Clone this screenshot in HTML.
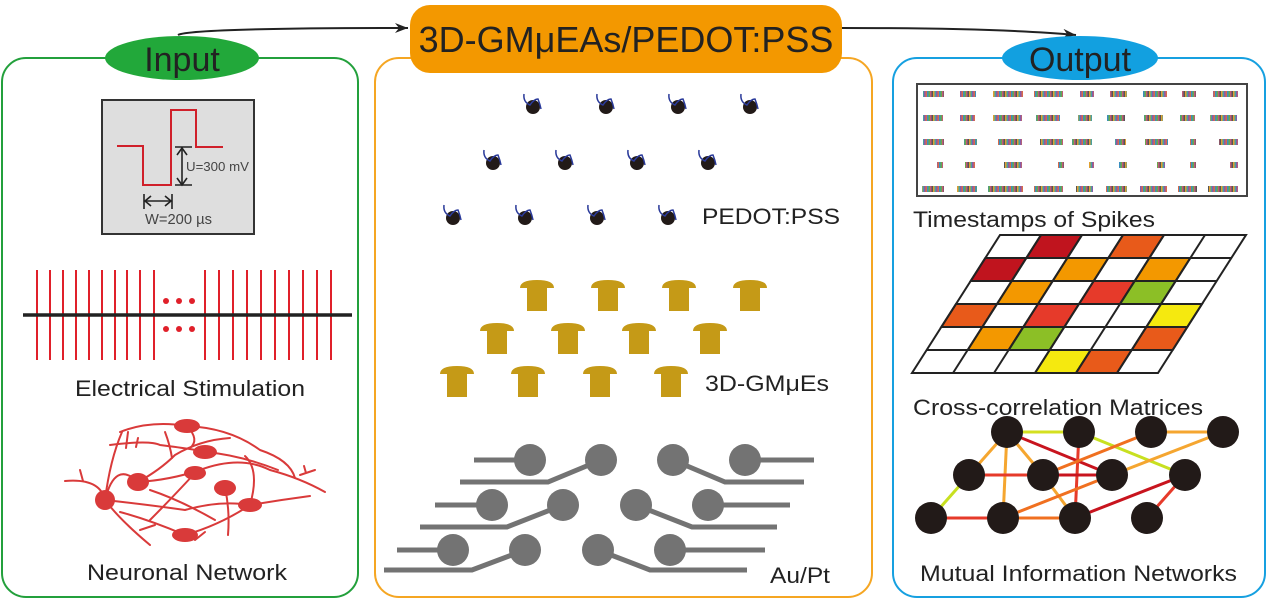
<!DOCTYPE html>
<html><head><meta charset="utf-8"><style>
html,body{margin:0;padding:0;background:#fff;}
svg{display:block;font-family:"Liberation Sans",Arial,sans-serif;}
</style></head><body>
<svg width="1271" height="601" viewBox="0 0 1271 601" xmlns="http://www.w3.org/2000/svg">
<defs>
<pattern id="sp" patternUnits="userSpaceOnUse" width="12" height="8">
<rect x="0" width="1.5" height="8" fill="#8a5aa8"/><rect x="1.5" width="1.5" height="8" fill="#d96a4a"/>
<rect x="3" width="1.5" height="8" fill="#3a8fbf"/><rect x="4.5" width="1.5" height="8" fill="#6aa84a"/>
<rect x="6" width="1.5" height="8" fill="#c05a7a"/><rect x="7.5" width="1.5" height="8" fill="#555"/>
<rect x="9" width="1.5" height="8" fill="#e0a030"/><rect x="10.5" width="1.5" height="8" fill="#4aa0a0"/>
</pattern>
<marker id="ah" markerWidth="14" markerHeight="10" refX="13" refY="5" orient="auto" markerUnits="userSpaceOnUse">
<path d="M0,0 L13,5 L0,10 L4,5 Z" fill="#222"/></marker>
</defs>

<rect x="2" y="58" width="356" height="539" rx="24" fill="none" stroke="#23a03c" stroke-width="2"/>
<rect x="375" y="58" width="497" height="539" rx="24" fill="none" stroke="#f5a623" stroke-width="2"/>
<rect x="893" y="58" width="372" height="539" rx="24" fill="none" stroke="#16a0e0" stroke-width="2"/>

<path d="M178,35 Q190,28 408,28" fill="none" stroke="#222" stroke-width="2" marker-end="url(#ah)"/>
<path d="M842,28 Q1000,28 1076,35" fill="none" stroke="#222" stroke-width="2" marker-end="url(#ah)"/>

<ellipse cx="182" cy="58" rx="77" ry="22" fill="#22a83a"/>
<text x="182" y="71" font-size="34" text-anchor="middle" fill="#222">Input</text>
<rect x="410" y="5" width="432" height="68" rx="20" fill="#f39800"/>
<text x="626" y="52" font-size="36" text-anchor="middle" fill="#222">3D-GMμEAs/PEDOT:PSS</text>
<ellipse cx="1080" cy="58" rx="78" ry="22" fill="#12a0e0"/>
<text x="1080" y="71" font-size="34" text-anchor="middle" fill="#222">Output</text>

<rect x="102" y="100" width="152" height="134" fill="#dedede" stroke="#333" stroke-width="2"/>
<polyline points="117,146 143,146 143,185 171,185 171,110 196,110 196,147 223,147" fill="none" stroke="#d0202a" stroke-width="2"/>
<g stroke="#222" stroke-width="1.6" fill="none">
<line x1="182" y1="147" x2="182" y2="185"/><line x1="175" y1="147" x2="192" y2="147"/><line x1="175" y1="185" x2="192" y2="185"/>
<polyline points="177,155 182,148 187,155"/><polyline points="177,178 182,185 187,178"/>
<line x1="144" y1="201" x2="172" y2="201"/><line x1="144" y1="194" x2="144" y2="209"/><line x1="172" y1="194" x2="172" y2="209"/>
<polyline points="151,196 145,201 151,206"/><polyline points="165,196 171,201 165,206"/>
</g>
<text x="186" y="171" font-size="13" fill="#444" textLength="63" lengthAdjust="spacingAndGlyphs">U=300 mV</text>
<text x="145" y="224" font-size="15" fill="#444" textLength="67" lengthAdjust="spacingAndGlyphs">W=200 µs</text>

<g stroke="#e0202a" stroke-width="2">
<line x1="37" y1="270" x2="37" y2="360"/><line x1="50" y1="270" x2="50" y2="360"/><line x1="63" y1="270" x2="63" y2="360"/><line x1="76" y1="270" x2="76" y2="360"/><line x1="89" y1="270" x2="89" y2="360"/><line x1="102" y1="270" x2="102" y2="360"/><line x1="115" y1="270" x2="115" y2="360"/><line x1="127" y1="270" x2="127" y2="360"/><line x1="140" y1="270" x2="140" y2="360"/><line x1="154" y1="270" x2="154" y2="360"/>
<line x1="205" y1="270" x2="205" y2="360"/><line x1="219" y1="270" x2="219" y2="360"/><line x1="233" y1="270" x2="233" y2="360"/><line x1="247" y1="270" x2="247" y2="360"/><line x1="261" y1="270" x2="261" y2="360"/><line x1="275" y1="270" x2="275" y2="360"/><line x1="289" y1="270" x2="289" y2="360"/><line x1="303" y1="270" x2="303" y2="360"/><line x1="317" y1="270" x2="317" y2="360"/><line x1="331" y1="270" x2="331" y2="360"/>
</g>
<line x1="23" y1="315" x2="352" y2="315" stroke="#222" stroke-width="3.5"/>
<g fill="#e0202a"><circle cx="166" cy="301" r="3"/><circle cx="179" cy="301" r="3"/><circle cx="192" cy="301" r="3"/><circle cx="166" cy="329" r="3"/><circle cx="179" cy="329" r="3"/><circle cx="192" cy="329" r="3"/></g>
<text x="75" y="396" font-size="22" fill="#222" textLength="230" lengthAdjust="spacingAndGlyphs">Electrical Stimulation</text>

<g stroke="#d93a3a" stroke-width="2" fill="none" stroke-linecap="round">
<path d="M65,481 Q100,478 105,500 Q120,520 150,545"/>
<path d="M105,500 Q115,460 138,482 Q170,480 200,470 Q240,455 270,470 Q300,478 325,492"/>
<path d="M120,432 Q150,420 187,426 Q230,428 260,450 Q290,460 295,478"/>
<path d="M110,445 Q150,440 160,445 Q200,450 205,452 Q240,455 278,470"/>
<path d="M138,482 Q160,470 175,455 Q200,440 230,438"/>
<path d="M122,432 Q110,460 105,500"/>
<path d="M105,500 Q150,505 185,510 Q220,500 250,505 Q280,500 310,496"/>
<path d="M120,512 Q150,520 185,535 Q220,525 250,505"/>
<path d="M195,473 Q170,500 150,520"/>
<path d="M225,488 Q230,510 228,535"/>
<path d="M150,490 Q180,500 215,520"/>
<path d="M187,426 Q200,440 190,448"/>
<path d="M165,432 Q170,445 172,458"/>
<path d="M245,456 Q260,470 250,505"/>
<path d="M300,475 L315,470 M306,473 L304,466"/>
<path d="M140,530 L155,525 M195,540 L205,532"/>
<path d="M80,470 L83,481 M128,432 L126,448 M136,447 L138,438"/>
</g>
<g fill="#d93a3a">
<ellipse cx="187" cy="426" rx="13" ry="7"/><ellipse cx="205" cy="452" rx="12" ry="7"/><ellipse cx="195" cy="473" rx="11" ry="7"/>
<ellipse cx="138" cy="482" rx="11" ry="9"/><ellipse cx="105" cy="500" rx="10" ry="10"/><ellipse cx="225" cy="488" rx="11" ry="8"/>
<ellipse cx="250" cy="505" rx="12" ry="7"/><ellipse cx="185" cy="535" rx="13" ry="7"/>
</g>
<text x="87" y="580" font-size="22" fill="#222" textLength="200" lengthAdjust="spacingAndGlyphs">Neuronal Network</text>

<g fill="#221a18">
<circle cx="533" cy="107" r="7"/><circle cx="606" cy="107" r="7"/><circle cx="678" cy="107" r="7"/><circle cx="750" cy="107" r="7"/>
<circle cx="493" cy="163" r="7"/><circle cx="565" cy="163" r="7"/><circle cx="637" cy="163" r="7"/><circle cx="708" cy="163" r="7"/>
<circle cx="453" cy="218" r="7"/><circle cx="525" cy="218" r="7"/><circle cx="597" cy="218" r="7"/><circle cx="668" cy="218" r="7"/>
</g>
<g fill="none" stroke="#2a3a9a" stroke-width="1.5">
<path d="M524,94 Q523,102 530,105 Q534,99 538,99 Q540,104 541,109"/>
<path d="M597,94 Q596,102 603,105 Q607,99 611,99 Q613,104 614,109"/>
<path d="M669,94 Q668,102 675,105 Q679,99 683,99 Q685,104 686,109"/>
<path d="M741,94 Q740,102 747,105 Q751,99 755,99 Q757,104 758,109"/>
<path d="M484,150 Q483,158 490,161 Q494,155 498,155 Q500,160 501,165"/>
<path d="M556,150 Q555,158 562,161 Q566,155 570,155 Q572,160 573,165"/>
<path d="M628,150 Q627,158 634,161 Q638,155 642,155 Q644,160 645,165"/>
<path d="M699,150 Q698,158 705,161 Q709,155 713,155 Q715,160 716,165"/>
<path d="M444,205 Q443,213 450,216 Q454,210 458,210 Q460,215 461,220"/>
<path d="M516,205 Q515,213 522,216 Q526,210 530,210 Q532,215 533,220"/>
<path d="M588,205 Q587,213 594,216 Q598,210 602,210 Q604,215 605,220"/>
<path d="M659,205 Q658,213 665,216 Q669,210 673,210 Q675,215 676,220"/>
</g>
<text x="702" y="224" font-size="22" fill="#222" textLength="138" lengthAdjust="spacingAndGlyphs">PEDOT:PSS</text>

<defs><path id="mu" d="M-17,8 Q-17,0 0,0 Q17,0 17,8 L10,8 L10,31 L-10,31 L-10,8 Z" fill="#c59a17"/></defs>
<use href="#mu" x="537" y="280"/><use href="#mu" x="608" y="280"/><use href="#mu" x="679" y="280"/><use href="#mu" x="750" y="280"/>
<use href="#mu" x="497" y="323"/><use href="#mu" x="568" y="323"/><use href="#mu" x="639" y="323"/><use href="#mu" x="710" y="323"/>
<use href="#mu" x="457" y="366"/><use href="#mu" x="528" y="366"/><use href="#mu" x="600" y="366"/><use href="#mu" x="671" y="366"/>
<text x="705" y="391" font-size="22" fill="#222" textLength="124" lengthAdjust="spacingAndGlyphs">3D-GMμEs</text>

<g stroke="#737373" stroke-width="5" fill="none">
<polyline points="474,460 530,460"/><polyline points="460,482 548,482 601,460"/>
<polyline points="673,460 725,482 804,482"/><polyline points="745,460 814,460"/>
<polyline points="435,505 492,505"/><polyline points="420,527 507,527 563,505"/>
<polyline points="636,505 692,527 777,527"/><polyline points="708,505 790,505"/>
<polyline points="397,550 453,550"/><polyline points="384,570 472,570 525,550"/>
<polyline points="598,550 650,570 747,570"/><polyline points="670,550 765,550"/>
</g>
<g fill="#737373">
<circle cx="530" cy="460" r="16"/><circle cx="601" cy="460" r="16"/><circle cx="673" cy="460" r="16"/><circle cx="745" cy="460" r="16"/>
<circle cx="492" cy="505" r="16"/><circle cx="563" cy="505" r="16"/><circle cx="636" cy="505" r="16"/><circle cx="708" cy="505" r="16"/>
<circle cx="453" cy="550" r="16"/><circle cx="525" cy="550" r="16"/><circle cx="598" cy="550" r="16"/><circle cx="670" cy="550" r="16"/>
</g>
<text x="770" y="583" font-size="22" fill="#222" textLength="60" lengthAdjust="spacingAndGlyphs">Au/Pt</text>

<rect x="917" y="84" width="330" height="112" fill="#fff" stroke="#444" stroke-width="2"/>
<g fill="url(#sp)">
<rect x="923" y="91" width="21" height="6"/><rect x="960" y="91" width="16" height="6"/><rect x="993" y="91" width="30" height="6"/><rect x="1034" y="91" width="29" height="6"/><rect x="1080" y="91" width="14" height="6"/><rect x="1110" y="91" width="17" height="6"/><rect x="1143" y="91" width="24" height="6"/><rect x="1182" y="91" width="14" height="6"/><rect x="1213" y="91" width="25" height="6"/>
<rect x="923" y="115" width="20" height="6"/><rect x="960" y="115" width="15" height="6"/><rect x="993" y="115" width="29" height="6"/><rect x="1036" y="115" width="24" height="6"/><rect x="1078" y="115" width="14" height="6"/><rect x="1107" y="115" width="18" height="6"/><rect x="1144" y="115" width="19" height="6"/><rect x="1180" y="115" width="15" height="6"/><rect x="1210" y="115" width="27" height="6"/>
<rect x="923" y="139" width="21" height="6"/><rect x="964" y="139" width="13" height="6"/><rect x="998" y="139" width="24" height="6"/><rect x="1040" y="139" width="23" height="6"/><rect x="1072" y="139" width="20" height="6"/><rect x="1115" y="139" width="11" height="6"/><rect x="1145" y="139" width="23" height="6"/><rect x="1190" y="139" width="6" height="6"/><rect x="1219" y="139" width="19" height="6"/>
<rect x="937" y="162" width="6" height="6"/><rect x="965" y="162" width="10" height="6"/><rect x="1004" y="162" width="18" height="6"/><rect x="1058" y="162" width="6" height="6"/><rect x="1089" y="162" width="5" height="6"/><rect x="1119" y="162" width="8" height="6"/><rect x="1157" y="162" width="8" height="6"/><rect x="1190" y="162" width="6" height="6"/><rect x="1230" y="162" width="8" height="6"/>
<rect x="922" y="186" width="22" height="6"/><rect x="957" y="186" width="20" height="6"/><rect x="988" y="186" width="35" height="6"/><rect x="1034" y="186" width="29" height="6"/><rect x="1076" y="186" width="17" height="6"/><rect x="1106" y="186" width="21" height="6"/><rect x="1140" y="186" width="27" height="6"/><rect x="1178" y="186" width="19" height="6"/><rect x="1208" y="186" width="30" height="6"/>
</g>
<text x="913" y="227" font-size="22" fill="#222" textLength="242" lengthAdjust="spacingAndGlyphs">Timestamps of Spikes</text>

<g stroke="#222" stroke-width="2">
<polygon points="1041,235 1082,235 1067.3,258 1026.3,258" fill="#c0141e"/>
<polygon points="1123,235 1164,235 1149.3,258 1108.3,258" fill="#e85a1a"/>
<polygon points="985.3,258 1026.3,258 1011.7,281 970.7,281" fill="#c0141e"/>
<polygon points="1067.3,258 1108.3,258 1093.7,281 1052.7,281" fill="#f39800"/>
<polygon points="1149.3,258 1190.3,258 1175.7,281 1134.7,281" fill="#f39800"/>
<polygon points="1011.7,281 1052.7,281 1038,304 997,304" fill="#f39800"/>
<polygon points="1093.7,281 1134.7,281 1120,304 1079,304" fill="#e63a2a"/>
<polygon points="1134.7,281 1175.7,281 1161,304 1120,304" fill="#8cbf26"/>
<polygon points="956,304 997,304 982.3,327 941.3,327" fill="#e85a1a"/>
<polygon points="1038,304 1079,304 1064.3,327 1023.3,327" fill="#e63a2a"/>
<polygon points="1161,304 1202,304 1187.3,327 1146.3,327" fill="#f5e90f"/>
<polygon points="982.3,327 1023.3,327 1008.7,350 967.7,350" fill="#f39800"/>
<polygon points="1023.3,327 1064.3,327 1049.7,350 1008.7,350" fill="#8cbf26"/>
<polygon points="1146.3,327 1187.3,327 1172.7,350 1131.7,350" fill="#e85a1a"/>
<polygon points="1049.7,350 1090.7,350 1076,373 1035,373" fill="#f5e90f"/>
<polygon points="1090.7,350 1131.7,350 1117,373 1076,373" fill="#e85a1a"/>
</g>
<g stroke="#222" stroke-width="2" fill="none">
<polygon points="1000,235 1246,235 1158,373 912,373"/>
<line x1="985.3" y1="258" x2="1231.3" y2="258"/><line x1="970.7" y1="281" x2="1216.7" y2="281"/><line x1="956" y1="304" x2="1202" y2="304"/><line x1="941.3" y1="327" x2="1187.3" y2="327"/><line x1="926.7" y1="350" x2="1172.7" y2="350"/>
<line x1="1041" y1="235" x2="953" y2="373"/><line x1="1082" y1="235" x2="994" y2="373"/><line x1="1123" y1="235" x2="1035" y2="373"/><line x1="1164" y1="235" x2="1076" y2="373"/><line x1="1205" y1="235" x2="1117" y2="373"/>
</g>
<text x="913" y="415" font-size="22" fill="#222" textLength="290" lengthAdjust="spacingAndGlyphs">Cross-correlation Matrices</text>

<g stroke-width="3" fill="none">
<line x1="1007" y1="432" x2="1079" y2="432" stroke="#d4e020"/>
<line x1="1007" y1="432" x2="1112" y2="475" stroke="#c8141e"/>
<line x1="1007" y1="432" x2="969" y2="475" stroke="#f5a630"/>
<line x1="1007" y1="432" x2="1003" y2="518" stroke="#f5a630"/>
<line x1="1007" y1="432" x2="1043" y2="475" stroke="#f5a630"/>
<line x1="1079" y1="432" x2="1075" y2="518" stroke="#e63a2a"/>
<line x1="1079" y1="432" x2="1185" y2="475" stroke="#c8e020"/>
<line x1="1151" y1="432" x2="1223" y2="432" stroke="#f5a630"/>
<line x1="1151" y1="432" x2="1043" y2="475" stroke="#f07020"/>
<line x1="1223" y1="432" x2="1112" y2="475" stroke="#f5a630"/>
<line x1="969" y1="475" x2="1043" y2="475" stroke="#e63a2a"/>
<line x1="1043" y1="475" x2="1112" y2="475" stroke="#c8141e"/>
<line x1="969" y1="475" x2="931" y2="518" stroke="#c8e020"/>
<line x1="1043" y1="475" x2="1075" y2="518" stroke="#f5a630"/>
<line x1="1112" y1="475" x2="1003" y2="518" stroke="#f07020"/>
<line x1="1185" y1="475" x2="1075" y2="518" stroke="#c8141e"/>
<line x1="1185" y1="475" x2="1147" y2="518" stroke="#e63a2a"/>
<line x1="931" y1="518" x2="1003" y2="518" stroke="#e63a2a"/>
<line x1="1003" y1="518" x2="1075" y2="518" stroke="#f07020"/>
</g>
<g fill="#221a18">
<circle cx="1007" cy="432" r="16"/><circle cx="1079" cy="432" r="16"/><circle cx="1151" cy="432" r="16"/><circle cx="1223" cy="432" r="16"/>
<circle cx="969" cy="475" r="16"/><circle cx="1043" cy="475" r="16"/><circle cx="1112" cy="475" r="16"/><circle cx="1185" cy="475" r="16"/>
<circle cx="931" cy="518" r="16"/><circle cx="1003" cy="518" r="16"/><circle cx="1075" cy="518" r="16"/><circle cx="1147" cy="518" r="16"/>
</g>
<text x="920" y="581" font-size="22" fill="#222" textLength="317" lengthAdjust="spacingAndGlyphs">Mutual Information Networks</text>
</svg>
</body></html>
